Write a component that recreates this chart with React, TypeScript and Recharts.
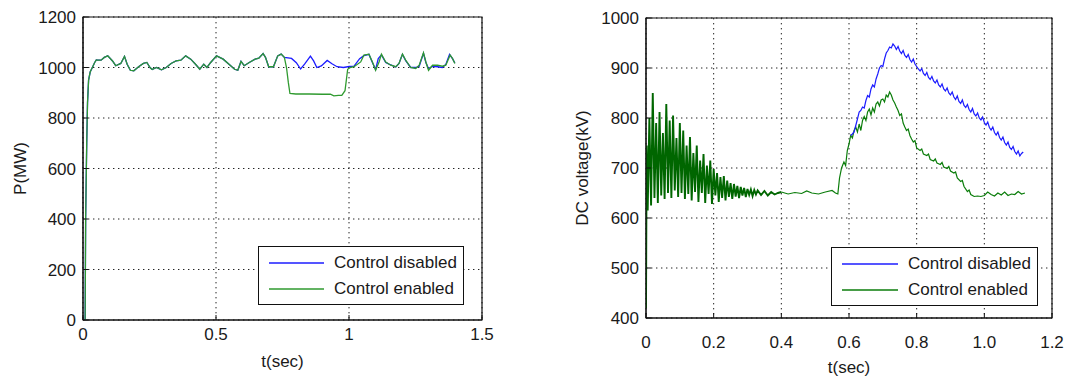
import React from 'react';
import { LineChart, Line, XAxis, YAxis, CartesianGrid, ReferenceArea, Legend, Label } from 'recharts';

// ---- left chart: active power P(MW) ----
const pTime = [
  0.008, 0.010, 0.014, 0.017, 0.021, 0.027, 0.032, 0.044, 0.050, 0.056, 0.068, 0.080, 0.093, 0.111, 0.123,
  0.142, 0.156, 0.166, 0.178, 0.191, 0.209, 0.227, 0.240, 0.252, 0.260, 0.276, 0.295, 0.313, 0.331, 0.350,
  0.368, 0.386, 0.405, 0.423, 0.439, 0.454, 0.466, 0.480, 0.502, 0.527, 0.551, 0.570, 0.582, 0.594, 0.606,
  0.625, 0.647, 0.661, 0.677, 0.686, 0.698, 0.716, 0.732, 0.745, 0.757, 0.765, 0.772, 0.778, 0.800, 0.850,
  0.900, 0.930, 0.943, 0.960, 0.973, 0.985, 0.995, 1.004, 1.019, 1.044, 1.056, 1.075, 1.088, 1.100, 1.113,
  1.122, 1.138, 1.157, 1.176, 1.188, 1.201, 1.213, 1.232, 1.251, 1.264, 1.280, 1.289, 1.299, 1.314, 1.333,
  1.351, 1.364, 1.380, 1.389, 1.398,
];
const pEnabled = [
  0, 410, 700, 860, 950, 982, 993, 1020, 1030, 1029, 1029, 1040, 1046, 1026, 1007,
  1016, 1044, 1013, 989, 987, 1003, 1016, 1020, 1000, 992, 1000, 991, 1000, 1016, 1026,
  1029, 1046, 1033, 1013, 993, 1013, 1000, 1020, 1046, 1033, 1011, 993, 989, 1024, 1007,
  1020, 1033, 1037, 1055, 1040, 1003, 1003, 1046, 1053, 1040, 1000, 940, 897, 895, 895,
  894, 894, 888, 890, 890, 908, 993, 1000, 1003, 1022, 1049, 1053, 1022, 989, 1022,
  1053, 1022, 1009, 1003, 1016, 1053, 1029, 1000, 996, 1009, 1058, 1022, 989, 1009, 1009,
  1005, 1009, 1049, 1036, 1016,
];
// control disabled: follows the enabled trace until 0.757 s, then its own values
const pDisabledTime = [
  0.784, 0.802, 0.818, 0.833, 0.855, 0.867, 0.879, 0.896, 0.918, 0.936, 0.955, 0.979, 1.001,
  1.019, 1.040, 1.056, 1.075, 1.088, 1.100, 1.110, 1.122, 1.138, 1.157, 1.176, 1.188, 1.201, 1.213,
  1.232, 1.251, 1.264, 1.280, 1.289, 1.299, 1.314, 1.333, 1.351, 1.364, 1.378, 1.389, 1.398,
];
const pDisabled = [
  1036, 1019, 994, 1013, 1045, 1026, 1000, 1006, 1028, 1015, 1003, 1000, 1004,
  1005, 1035, 1047, 1052, 1020, 992, 1035, 1050, 1020, 1010, 1002, 1016, 1052, 1027,
  1000, 1000, 1005, 1056, 1020, 995, 1005, 1003, 1000, 1012, 1052, 1035, 1018,
];
const pTicksX = [0, 0.5, 1, 1.5];
const pTicksY = [0, 200, 400, 600, 800, 1000, 1200];

// ---- right chart: DC voltage(kV) ----
// start-up ripple (control enabled and disabled coincide here)
const vRippleTime = [
  0, 0.002, 0.005, 0.010, 0.015, 0.020, 0.025, 0.030, 0.035, 0.040, 0.045, 0.050, 0.055, 0.060, 0.065,
  0.070, 0.075, 0.080, 0.085, 0.090, 0.095, 0.100, 0.105, 0.110, 0.115, 0.120, 0.125, 0.130, 0.135, 0.140,
  0.145, 0.150, 0.155, 0.160, 0.165, 0.170, 0.175, 0.180, 0.185, 0.190, 0.195, 0.200, 0.205, 0.210, 0.215,
  0.220, 0.225, 0.230, 0.235, 0.240, 0.245, 0.250, 0.255, 0.260, 0.265, 0.270, 0.275, 0.280, 0.285, 0.290,
  0.295, 0.300, 0.305, 0.310, 0.315, 0.320, 0.325, 0.330, 0.340, 0.350, 0.360, 0.370, 0.380, 0.390, 0.400,
];
const vRipple = [
  420, 745, 615, 800, 625, 850, 640, 790, 630, 812, 645, 770, 638, 828, 650,
  795, 640, 805, 655, 760, 642, 790, 650, 775, 638, 745, 648, 762, 635, 730,
  652, 745, 632, 715, 650, 728, 630, 705, 648, 715, 628, 698, 645, 690, 632,
  682, 640, 684, 635, 675, 642, 670, 638, 668, 643, 664, 640, 662, 645, 660,
  642, 658, 646, 657, 644, 656, 647, 655, 646, 654, 645, 652, 647, 650, 652,
];
const vTime = [
  0.400, 0.420, 0.440, 0.460, 0.475, 0.490, 0.510, 0.530, 0.550, 0.560, 0.567, 0.572, 0.578, 0.585, 0.590, 0.595,
  0.600, 0.605, 0.610, 0.615, 0.620, 0.625, 0.630, 0.635, 0.640, 0.645, 0.650, 0.655, 0.660, 0.665, 0.670,
  0.675, 0.680, 0.685, 0.690, 0.695, 0.700, 0.705, 0.710, 0.715, 0.720, 0.725, 0.730, 0.735, 0.740, 0.745,
  0.750, 0.755, 0.760, 0.765, 0.770, 0.775, 0.780, 0.785, 0.790, 0.795, 0.800, 0.810, 0.815, 0.820, 0.830,
  0.835, 0.840, 0.850, 0.855, 0.860, 0.870, 0.875, 0.880, 0.890, 0.895, 0.900, 0.910, 0.915, 0.920, 0.930,
  0.935, 0.940, 0.950, 0.955, 0.960, 0.970, 0.980, 0.990, 1.000, 1.010, 1.020, 1.030, 1.040, 1.050, 1.060,
  1.070, 1.080, 1.090, 1.100, 1.110, 1.120,
];
const vEnabled = [
  652, 648, 651, 649, 654, 650, 648, 652, 655, 650, 648, 680, 700, 712, 705, 735,
  748, 765, 760, 775, 782, 772, 788, 775, 795, 803, 795, 812, 818, 806, 820,
  812, 828, 832, 824, 836, 838, 832, 846, 842, 852, 846, 836, 830, 822, 815,
  805, 808, 790, 782, 775, 778, 765, 758, 752, 755, 740, 735, 738, 728, 725,
  728, 717, 714, 718, 710, 707, 711, 702, 699, 703, 694, 690, 692, 680, 673,
  675, 663, 653, 656, 647, 643, 644, 643, 645, 652, 647, 644, 650, 646, 652,
  645, 648, 647, 653, 648, 650,
];
const vDisabledTime = [
  0.605, 0.610, 0.615, 0.620, 0.625, 0.630, 0.635, 0.640, 0.645, 0.650, 0.655, 0.660, 0.665, 0.670, 0.675,
  0.680, 0.685, 0.690, 0.695, 0.700, 0.705, 0.710, 0.715, 0.720, 0.725, 0.730, 0.735, 0.740, 0.745, 0.750,
  0.755, 0.760, 0.765, 0.770, 0.775, 0.780, 0.785, 0.790, 0.795, 0.800, 0.805, 0.810, 0.815, 0.820, 0.825,
  0.830, 0.835, 0.840, 0.845, 0.850, 0.855, 0.860, 0.865, 0.870, 0.875, 0.880, 0.885, 0.890, 0.895, 0.900,
  0.905, 0.910, 0.915, 0.920, 0.925, 0.930, 0.935, 0.940, 0.945, 0.950, 0.955, 0.960, 0.965, 0.970, 0.975,
  0.980, 0.985, 0.990, 0.995, 1.000, 1.005, 1.010, 1.015, 1.020, 1.025, 1.030, 1.035, 1.040, 1.045, 1.050,
  1.055, 1.060, 1.065, 1.070, 1.075, 1.080, 1.085, 1.090, 1.095, 1.100, 1.105, 1.110, 1.115,
];
const vDisabled = [
  765, 768, 772, 785, 798, 812, 815, 822, 820, 835, 845, 842, 858, 866, 862,
  878, 888, 900, 905, 903, 918, 930, 935, 942, 940, 948, 944, 937, 943, 934,
  929, 935, 925, 921, 927, 917, 912, 918, 908, 903, 898, 894, 899, 889, 885,
  891, 881, 877, 883, 874, 870, 876, 866, 862, 868, 858, 854, 860, 850, 846,
  852, 842, 837, 844, 833, 829, 836, 825, 821, 827, 817, 812, 819, 808, 804,
  810, 800, 796, 802, 791, 786, 792, 781, 776, 782, 771, 766, 772, 761, 756,
  762, 751, 746, 752, 741, 737, 743, 733, 728, 734, 724, 729, 732,
];
const vTicksX = [0, 0.2, 0.4, 0.6, 0.8, 1.0, 1.2];
const vTicksY = [400, 500, 600, 700, 800, 900, 1000];

const seriesNames = ['Control disabled', 'Control enabled'];
const blue = '#1c1cff';
const greenLeft = '#2f9a2f';
const greenRight = '#0b7d0b';
const greenDense = '#006600';

const font = '"Liberation Sans", Arial, sans-serif';
const tickStyle = { fontSize: 17, fill: '#1a1a1a', fontFamily: font };

const toPoints = (ts: number[], vs: number[]) => ts.map((t, i) => ({ t, v: vs[i] }));

const pEnabledData = toPoints(pTime, pEnabled);
const pDisabledData = [
  ...pEnabledData.filter(d => d.t <= 0.757),
  ...toPoints(pDisabledTime, pDisabled),
];
const vRippleData = toPoints(vRippleTime, vRipple);
const vEnabledData = toPoints(vTime, vEnabled);
const vDisabledData = toPoints(vDisabledTime, vDisabled);

const MatLegend = ({ colors, lineW }: { colors: string[]; lineW: number }) => (
  <div
    style={{
      border: '1.5px solid #111',
      background: '#fff',
      padding: '3px 6px 2px 10px',
      fontFamily: font,
      fontSize: 17,
      color: '#1a1a1a',
      lineHeight: '26px',
      whiteSpace: 'nowrap',
    }}
  >
    {seriesNames.map((name, i) => (
      <div key={name} style={{ display: 'flex', alignItems: 'center' }}>
        <svg width={lineW + 6} height={10} style={{ marginRight: 4 }}>
          <line x1={0} y1={5} x2={lineW} y2={5} stroke={colors[i]} strokeWidth={1.5} />
        </svg>
        <span>{name}</span>
      </div>
    ))}
  </div>
);

const App = () => {
  return (
    <div style={{ position: 'absolute', left: 0, top: 0, width: 1074, height: 377, background: '#fff' }}>
      <div style={{ position: 'absolute', left: 0, top: 0 }}>
        <LineChart width={540} height={377} margin={{ top: 17, right: 58, bottom: 7, left: 23 }}>
          <CartesianGrid stroke="#222" strokeDasharray="1.4 3.6" />
          <XAxis
            type="number"
            dataKey="t"
            domain={[0, 1.5]}
            ticks={pTicksX}
            allowDataOverflow
            height={50}
            stroke="#111"
            tick={tickStyle}
            tickSize={-5}
            tickMargin={13}
          >
            <Label value="t(sec)" position="insideBottom" offset={3} style={{ ...tickStyle }} />
          </XAxis>
          <YAxis
            type="number"
            dataKey="v"
            domain={[0, 1200]}
            ticks={pTicksY}
            allowDataOverflow
            width={60}
            stroke="#111"
            tick={tickStyle}
            tickSize={-5}
            tickMargin={12}
          >
            <Label
              value="P(MW)"
              angle={-90}
              position="insideLeft"
              offset={-3}
              style={{ ...tickStyle, textAnchor: 'middle' }}
            />
          </YAxis>
          <ReferenceArea x1={0} x2={1.5} y1={0} y2={1200} fill="none" stroke="#111" strokeWidth={1.2} />
          <Line
            data={pDisabledData}
            dataKey="v"
            name={seriesNames[0]}
            stroke={blue}
            strokeWidth={1.3}
            dot={false}
            isAnimationActive={false}
          />
          <Line
            data={pEnabledData}
            dataKey="v"
            name={seriesNames[1]}
            stroke={greenLeft}
            strokeWidth={1.3}
            dot={false}
            isAnimationActive={false}
          />
          <Legend
            verticalAlign="middle"
            content={() => <MatLegend colors={[blue, greenLeft]} lineW={55} />}
            wrapperStyle={{ position: 'absolute', left: 258, top: 246, width: 'auto' }}
          />
        </LineChart>
      </div>
      <div style={{ position: 'absolute', left: 540, top: 0 }}>
        <LineChart width={534} height={377} margin={{ top: 18, right: 22, bottom: 2, left: 46 }}>
          <CartesianGrid stroke="#222" strokeDasharray="1.4 3.6" />
          <XAxis
            type="number"
            dataKey="t"
            domain={[0, 1.2]}
            ticks={vTicksX}
            allowDataOverflow
            height={57}
            stroke="#111"
            tick={tickStyle}
            tickFormatter={(t: number) => (t === 0 ? '0' : t.toFixed(1))}
            tickSize={-5}
            tickMargin={23}
          >
            <Label value="t(sec)" position="insideBottom" offset={2} style={{ ...tickStyle }} />
          </XAxis>
          <YAxis
            type="number"
            dataKey="v"
            domain={[400, 1000]}
            ticks={vTicksY}
            allowDataOverflow
            width={60}
            stroke="#111"
            tick={tickStyle}
            tickSize={-5}
            tickMargin={12}
          >
            <Label
              value="DC voltage(kV)"
              angle={-90}
              position="insideLeft"
              offset={-4}
              style={{ ...tickStyle, textAnchor: 'middle' }}
            />
          </YAxis>
          <ReferenceArea x1={0} x2={1.2} y1={400} y2={1000} fill="none" stroke="#111" strokeWidth={1.2} />
          <Line
            data={vRippleData}
            dataKey="v"
            name={seriesNames[1]}
            stroke={greenDense}
            strokeWidth={1.9}
            strokeLinejoin="miter"
            dot={false}
            isAnimationActive={false}
          />
          <Line
            data={vEnabledData}
            dataKey="v"
            name={seriesNames[1]}
            stroke={greenRight}
            strokeWidth={1.2}
            dot={false}
            isAnimationActive={false}
          />
          <Line
            data={vDisabledData}
            dataKey="v"
            name={seriesNames[0]}
            stroke={blue}
            strokeWidth={1.2}
            dot={false}
            isAnimationActive={false}
          />
          <Legend
            verticalAlign="middle"
            content={() => <MatLegend colors={[blue, greenRight]} lineW={56} />}
            wrapperStyle={{ position: 'absolute', left: 291, top: 247, width: 'auto' }}
          />
        </LineChart>
      </div>
    </div>
  );
};

export default App;
